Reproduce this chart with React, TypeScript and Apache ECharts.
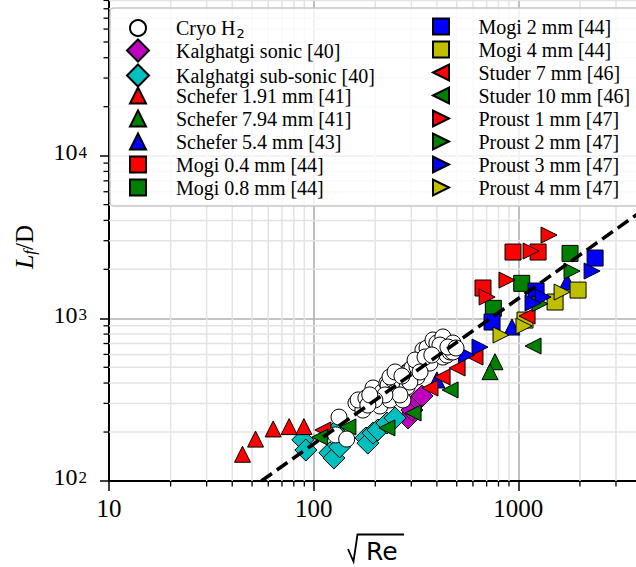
import React, { useEffect, useRef } from 'react';
import * as echarts from 'echarts';

// ---- data (x = sqrt(Re), y = Lf/D) ----
const cryoH2: [number, number][] = [
  [133, 247], [128, 192], [145, 181], [161, 302], [174, 273], [165, 315], [180, 324], [195, 373],
  [211, 289], [216, 352], [228, 400], [236, 315], [231, 389], [244, 418], [255, 363], [255, 418],
  [236, 436], [273, 315], [286, 378], [286, 468], [295, 481], [302, 495], [320, 436], [320, 502],
  [331, 531], [342, 639], [358, 657], [370, 531], [383, 736], [400, 621], [400, 705], [428, 578],
  [428, 768], [448, 595], [464, 621], [479, 705], [479, 621], [264, 338], [295, 406], [223, 338],
  [199, 315], [184, 293], [250, 468], [270, 442], [313, 554], [350, 578], [414, 685], [453, 666],
  [496, 657], [378, 595], [331, 468], [188, 338],
];
const kalghatgiSonic: [number, number][] = [[289, 244], [302, 273], [323, 315], [338, 333]];
const kalghatgiSubSonic: [number, number][] = [
  [88.5, 179], [91.6, 155], [120, 149], [125.6, 138.5], [134, 162], [180, 184], [184, 171],
  [195, 197], [206, 206], [228, 227], [250, 244], [127, 200],
];
const schefer191: [number, number][] = [[44.9, 146], [52, 181], [63.4, 209], [75.9, 216], [89.6, 216]];
const schefer794: [number, number][] = [[769, 541], [727, 470]];
const schefer54: [number, number][] = [[400, 418], [931, 884], [1730, 1672]];
const mogi04: [number, number][] = [[672, 1536], [942, 2556], [1249, 2556]];
const mogi08: [number, number][] = [[1789, 2508], [1039, 1641], [755, 1152]];
const mogi2: [number, number][] = [[2372, 2348], [1221, 1472], [744, 949]];
const mogi4: [number, number][] = [[1958, 1492], [1512, 1260], [1078, 976]];
const studer7: [number, number][] = [[111, 206], [370, 373], [424, 436], [502, 495], [614, 578], [1103, 1033]];
const studer10: [number, number][] = [[107, 186], [147, 215], [228, 212], [306, 262], [464, 363], [1180, 676]];
const proust1: [number, number][] = [[1413, 3251], [1154, 2593], [880, 1719], [704, 1352]];
const proust2: [number, number][] = [[1830, 1953], [1277, 1230]];
const proust3: [number, number][] = [[2293, 1953], [1321, 1352], [1180, 1242], [650, 666], [559, 595]];
const proust4: [number, number][] = [[1636, 1451], [823, 790], [1066, 897]];
const fitLine: [number, number][] = [[55.5, 100], [4000, 4560]];

const X_MIN = 10, X_MAX = 10000, Y_MIN = 100, Y_MAX = 100000;
const MINOR_MANTISSAS = [2, 3, 4, 5, 6, 7, 8, 9];
const X_DECADES = [10, 100, 1000];
const Y_DECADES = [100, 1000, 10000];

const LEFT_TRI = 'path://M0,8L16,0L16,16Z';
const RIGHT_TRI = 'path://M16,8L0,0L0,16Z';

const LEFT_COL_A = ['Cryo H2'];
const LEFT_COL_B = ['Kalghatgi sonic [40]', 'Kalghatgi sub-sonic [40]'];
const LEFT_COL_C = ['Schefer 1.91 mm [41]', 'Schefer 7.94 mm [41]', 'Schefer 5.4 mm [43]', 'Mogi 0.4 mm [44]', 'Mogi 0.8 mm [44]'];
const RIGHT_COL = [
  { name: 'Mogi 2 mm [44]' }, { name: 'Mogi 4 mm [44]' },
  { name: 'Studer 7 mm [46]', icon: LEFT_TRI }, { name: 'Studer 10 mm [46]', icon: LEFT_TRI },
  { name: 'Proust 1 mm [47]', icon: RIGHT_TRI }, { name: 'Proust 2 mm [47]', icon: RIGHT_TRI },
  { name: 'Proust 3 mm [47]', icon: RIGHT_TRI }, { name: 'Proust 4 mm [47]', icon: RIGHT_TRI },
];

const RED = '#ff0000', GREEN = '#008000', BLUE = '#0000ff', OLIVE = '#bfbf00', CYAN = '#00bfbf', MAGENTA = '#bf00bf';
const SERIF = 'Liberation Serif';
// the chart canvas is larger than the window (the figure is cropped); OY shifts it up
const OY = 20;

function scatter(name: string, data: [number, number][], symbol: string, color: string, size: number, rotate = 0, z = 2) {
  return {
    type: 'scatter', name, data, symbol, symbolSize: size, symbolRotate: rotate, z,
    itemStyle: { color, borderColor: '#000', borderWidth: 1, opacity: 1 },
    emphasis: { disabled: true }, silent: true,
  };
}

const legendTextBase = {
  fontFamily: SERIF, fontSize: 20, lineHeight: 20, color: '#000',
  rich: { sub: { fontFamily: 'DejaVu Sans', fontSize: 13, lineHeight: 10, padding: [10, 0, 0, 1] } },
};
const legendFormatter = (n: string) => (n === 'Cryo H2' ? 'Cryo H{sub|2}' : n);

function legend(data: any[], left: number, top: number, size: number, gap: number, padLeft: number) {
  return {
    data, left, top: top + OY, orient: 'vertical', itemWidth: size, itemHeight: size, itemGap: gap, padding: 0,
    selectedMode: false, z: 5, formatter: legendFormatter,
    textStyle: { ...legendTextBase, padding: [0, 0, 0, padLeft] },
  };
}

function minorX(params: any, api: any) {
  const v = api.value(0);
  const p = api.coord([v, Y_MIN]);
  const cs = params.coordSys;
  return {
    type: 'group', children: [
      { type: 'line', shape: { x1: p[0], y1: cs.y, x2: p[0], y2: cs.y + cs.height }, style: { stroke: '#e3e3e3', lineWidth: 1.5 } },
      { type: 'line', shape: { x1: p[0], y1: p[1], x2: p[0], y2: p[1] + 5.5 }, style: { stroke: '#000', lineWidth: 1.3 } },
    ],
  };
}
function minorY(params: any, api: any) {
  const v = api.value(1);
  const p = api.coord([X_MIN, v]);
  const cs = params.coordSys;
  return {
    type: 'group', children: [
      { type: 'line', shape: { x1: cs.x, y1: p[1], x2: cs.x + cs.width, y2: p[1] }, style: { stroke: '#e3e3e3', lineWidth: 1.5 } },
      { type: 'line', shape: { x1: p[0] - 5.5, y1: p[1], x2: p[0], y2: p[1] }, style: { stroke: '#000', lineWidth: 1.3 } },
    ],
  };
}

export default function App() {
  const ref = useRef<HTMLDivElement>(null);
  useEffect(() => {
    const chart = echarts.init(ref.current!, null, { renderer: 'svg' });
    const xMinor: [number, number][] = [];
    X_DECADES.forEach((d) => MINOR_MANTISSAS.forEach((m) => xMinor.push([m * d, Y_MIN])));
    const yMinor: [number, number][] = [];
    Y_DECADES.forEach((d) => MINOR_MANTISSAS.forEach((m) => yMinor.push([X_MIN, m * d])));

    const option: any = {
      animation: false,
      backgroundColor: '#fff',
      grid: { left: 109, top: -7 + OY, width: 614, height: 488, containLabel: false },
      xAxis: {
        type: 'log', logBase: 10, min: X_MIN, max: X_MAX,
        axisLine: { show: true, onZero: false, lineStyle: { color: '#000', width: 2 } },
        axisTick: { show: true, length: 10, lineStyle: { color: '#000', width: 1.5 } },
        axisLabel: {
          formatter: (v: number) => String(Math.round(v)), margin: 15, showMaxLabel: false,
          fontFamily: SERIF, fontSize: 25, color: '#000',
        },
        splitLine: { show: true, lineStyle: { color: '#b0b0b0', width: 1.6 } },
      },
      yAxis: {
        type: 'log', logBase: 10, min: Y_MIN, max: Y_MAX,
        axisLine: { show: true, onZero: false, lineStyle: { color: '#000', width: 2 } },
        axisTick: { show: true, length: 9, lineStyle: { color: '#000', width: 1.5 } },
        axisLabel: {
          formatter: (v: number) => `{b|10}{s|${Math.round(Math.log10(v))}}`,
          margin: 22, showMaxLabel: false, color: '#000',
          rich: {
            b: { fontFamily: SERIF, fontSize: 24, lineHeight: 24, padding: [3.5, 0, 11, 0], color: '#000' },
            s: { fontFamily: SERIF, fontSize: 17, lineHeight: 17, verticalAlign: 'top', padding: [0, 0, 0, 1], color: '#000' },
          },
        },
        splitLine: { show: true, lineStyle: { color: '#b0b0b0', width: 1.6 } },
        name: '{it|L}{sub|f}{n|/D}', nameLocation: 'middle', nameGap: 72,
        nameTextStyle: {
          color: '#000', fontFamily: SERIF, fontSize: 25, padding: [0, 20, 0, 0],
          rich: {
            it: { fontFamily: SERIF, fontSize: 26, fontStyle: 'italic', lineHeight: 25, color: '#000' },
            sub: { fontFamily: SERIF, fontSize: 17, fontStyle: 'italic', lineHeight: 16, padding: [9, 0, 0, 0], color: '#000' },
            n: { fontFamily: SERIF, fontSize: 25, lineHeight: 25, color: '#000' },
          },
        },
      },
      legend: [
        legend(LEFT_COL_A, 129, 16.5, 16, 3, 25),
        legend(LEFT_COL_B, 126, 38.5, 22, 1, 22),
        legend(LEFT_COL_C, 129, 85.5, 16, 3, 25),
        legend(RIGHT_COL, 432, 16.5, 16, 3, 24.5),
      ],
      graphic: [
        { type: 'rect', z: 4, shape: { x: 110, y: 8 + OY, width: 600, height: 198, r: 4 }, style: { fill: 'rgba(255,255,255,0.8)', stroke: '#c8c8c8', lineWidth: 1.5 } },
        { type: 'polyline', z: 4, shape: { points: [[348, 549 + OY], [353.5, 561.5 + OY], [357.5, 534.5 + OY], [404, 534.5 + OY]] }, style: { stroke: '#000', lineWidth: 1.8, fill: null } },
        { type: 'text', z: 4, x: 366, y: 551 + OY, style: { text: 'Re', fontFamily: 'DejaVu Sans', fontSize: 25, fill: '#000', align: 'left', verticalAlign: 'middle' } },
      ],
      series: [
        { type: 'custom', renderItem: minorX, data: xMinor, z: 1, clip: false, silent: true },
        { type: 'custom', renderItem: minorY, data: yMinor, z: 1, clip: false, silent: true },
        scatter('Kalghatgi sonic [40]', kalghatgiSonic, 'diamond', MAGENTA, 22),
        scatter('Kalghatgi sub-sonic [40]', kalghatgiSubSonic, 'diamond', CYAN, 22),
        scatter('Schefer 1.91 mm [41]', schefer191, 'triangle', RED, 16),
        scatter('Schefer 7.94 mm [41]', schefer794, 'triangle', GREEN, 16),
        scatter('Schefer 5.4 mm [43]', schefer54, 'triangle', BLUE, 16),
        scatter('Mogi 0.4 mm [44]', mogi04, 'rect', RED, 16),
        scatter('Mogi 0.8 mm [44]', mogi08, 'rect', GREEN, 16),
        scatter('Mogi 2 mm [44]', mogi2, 'rect', BLUE, 16),
        scatter('Mogi 4 mm [44]', mogi4, 'rect', OLIVE, 16),
        scatter('Studer 7 mm [46]', studer7, 'triangle', RED, 16, 90),
        scatter('Studer 10 mm [46]', studer10, 'triangle', GREEN, 16, 90),
        scatter('Proust 1 mm [47]', proust1, 'triangle', RED, 16, -90),
        scatter('Proust 2 mm [47]', proust2, 'triangle', GREEN, 16, -90),
        scatter('Proust 3 mm [47]', proust3, 'triangle', BLUE, 16, -90),
        scatter('Proust 4 mm [47]', proust4, 'triangle', OLIVE, 16, -90),
        scatter('Cryo H2', cryoH2, 'circle', '#ffffff', 16, 0, 2.5),
        {
          type: 'line', data: fitLine, symbol: 'none', z: 3, silent: true,
          lineStyle: { color: '#000', width: 3.5, type: [13, 6] },
        },
      ],
    };
    chart.setOption(option);
    return () => chart.dispose();
  }, []);
  return (
    <div style={{ position: 'fixed', left: 0, top: 0, width: 636, height: 567, overflow: 'hidden', background: '#fff' }}>
      <div ref={ref} style={{ position: 'absolute', left: 0, top: -OY, width: 760, height: 567 + OY }} />
    </div>
  );
}
